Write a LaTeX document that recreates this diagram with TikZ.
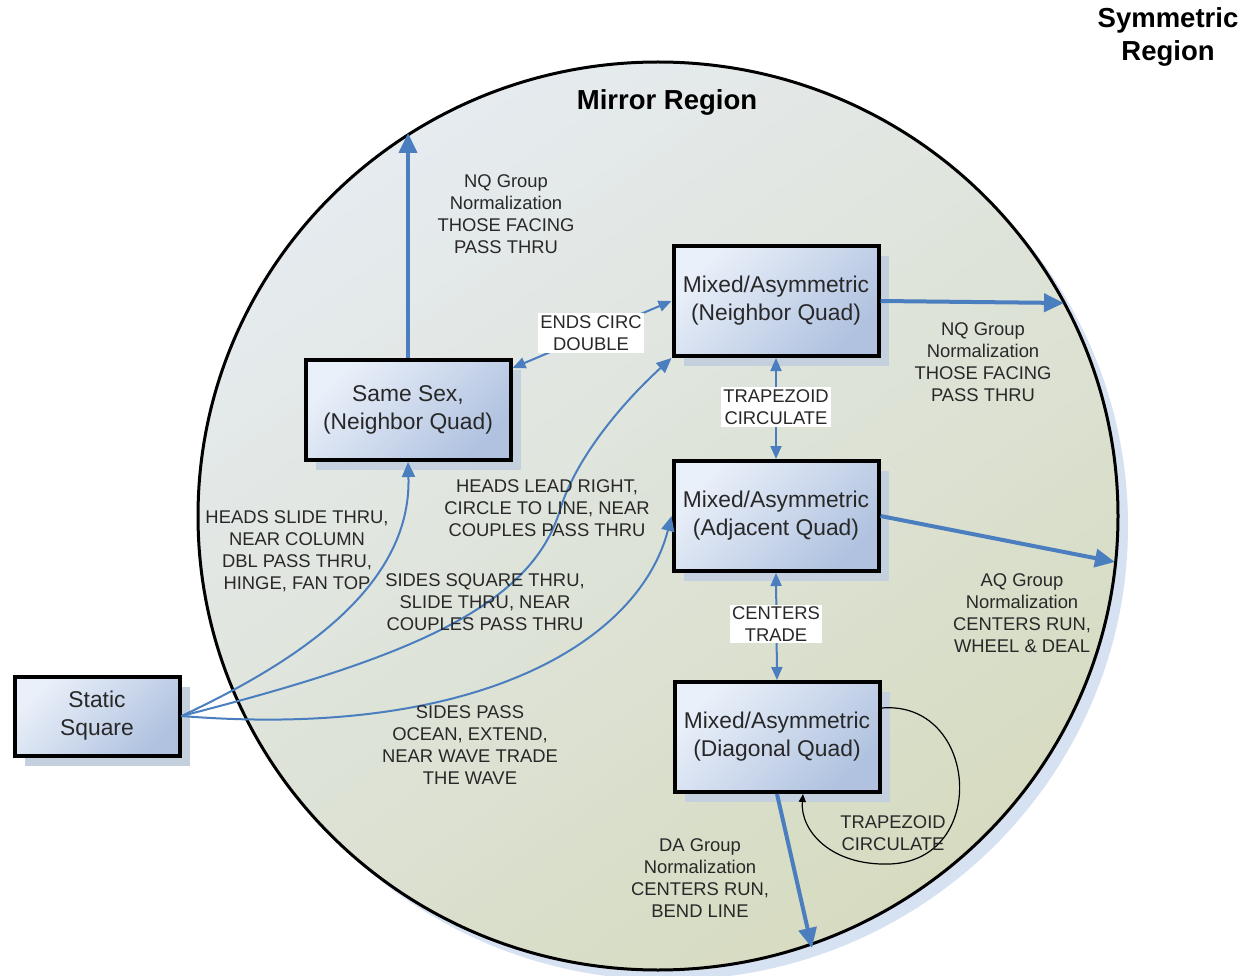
\documentclass[tikz,border=0pt]{standalone}
\usepackage{fontspec}
\setmainfont{Liberation Sans}
\usetikzlibrary{arrows.meta,shadows}

\definecolor{linkblue}{RGB}{74,126,190}
\definecolor{txt}{RGB}{40,40,40}
\definecolor{boxlight}{RGB}{234,240,249}
\definecolor{boxdark}{RGB}{176,194,224}
\definecolor{boxshadow}{RGB}{196,208,222}
\definecolor{ringshadow}{RGB}{214,225,242}
\definecolor{fieldlight}{RGB}{230,235,240}
\definecolor{fielddark}{RGB}{214,219,192}

\tikzset{
  quad/.style={draw=black, line width=4pt, left color=boxlight, right color=boxdark,
    shading angle=45, minimum width=205pt, minimum height=110pt, inner sep=0pt,
    align=center, text=txt, font=\fontsize{22.8}{28}\selectfont,
    drop shadow={shadow xshift=10pt, shadow yshift=-10pt, fill=boxshadow, opacity=1}},
  note/.style={text=txt, align=center, font=\fontsize{18.4}{22}\selectfont, inner sep=1pt},
  tag/.style={note, fill=white, inner sep=2pt},
  title/.style={text=black, align=center, font=\bfseries\fontsize{27.5}{33}\selectfont},
  norm/.style={draw=linkblue, line width=4pt, -{Triangle[length=20pt,width=18pt]}},
  move/.style={draw=linkblue, line width=2pt, -{Triangle[length=15pt,width=13pt]}},
  swap/.style={draw=linkblue, line width=2pt,
    {Triangle[length=13pt,width=11pt]}-{Triangle[length=13pt,width=11pt]}},
  selfloop/.style={draw=black, line width=1.2pt, -{Triangle[length=8pt,width=7pt]}},
}

\begin{document}
\begin{tikzpicture}[x=1pt,y=-1pt]
  \path[use as bounding box, fill=white] (0,0) rectangle (1248,976);

  % the mirror region
  \fill[ringshadow] (668,526) ellipse [x radius=460pt, y radius=454pt];
  \shade[left color=fieldlight, right color=fielddark, shading angle=35,
         draw=black, line width=3pt] (658,516) ellipse [x radius=460pt, y radius=454pt];

  \node[title] (mirror) at (667,102) {Mirror Region};
  \node[title] (symm) at (1168,37) {Symmetric\\Region};

  % formations
  \node[quad, minimum width=205pt, minimum height=100pt] (same) at (408,410) {Same Sex,\\(Neighbor Quad)};
  \node[quad] (nq) at (776,301) {Mixed/Asymmetric\\(Neighbor Quad)};
  \node[quad] (aq) at (776,516) {Mixed/Asymmetric\\(Adjacent Quad)};
  \node[quad] (dq) at (777,737) {Mixed/Asymmetric\\(Diagonal Quad)};
  \node[quad, minimum width=165pt, minimum height=79pt] (ss) at (97,716) {Static\\Square};

  % exits to the symmetric region
  \coordinate (sameout) at (408,133);
  \coordinate (nqout) at (1064,303);
  \coordinate (aqout) at (1115,562);
  \coordinate (dqout) at (812,948);
  \draw[norm] (same.north) -- (sameout);
  \draw[norm] (nq.east) -- (nqout);
  \draw[norm] (aq.east) -- (aqout);
  \draw[norm] (dq.south) -- (dqout);

  \node[note] (l1) at (506,214) {NQ Group\\Normalization\\THOSE FACING\\PASS THRU};
  \node[note] (l2) at (983,362) {NQ Group\\Normalization\\THOSE FACING\\PASS THRU};
  \node[note] (l3) at (1022,613) {AQ Group\\Normalization\\CENTERS RUN,\\WHEEL \& DEAL};
  \node[note] (l4) at (700,878) {DA Group\\Normalization\\CENTERS RUN,\\BEND LINE};

  % moves from the static square
  \draw[move] (ss.east) .. controls (290,665) and (412,590) .. (same.south);
  \draw[move] (ss.east) .. controls (400,660) and (530,610) .. (560,510)
                        .. controls (575,460) and (620,405) .. (nq.south west);
  \draw[move] (ss.east) .. controls (480,740) and (640,640) .. (aq.west);

  \node[note] (l5) at (297,551) {HEADS SLIDE THRU,\\NEAR COLUMN\\DBL PASS THRU,\\HINGE, FAN TOP};
  \node[note] (l6) at (547,508) {HEADS LEAD RIGHT,\\CIRCLE TO LINE, NEAR\\COUPLES PASS THRU};
  \node[note] (l7) at (485,602) {SIDES SQUARE THRU,\\SLIDE THRU, NEAR\\COUPLES PASS THRU};
  \node[note] (l8) at (470,745) {SIDES PASS\\OCEAN, EXTEND,\\NEAR WAVE TRADE\\THE WAVE};

  % moves between the mixed formations
  \draw[swap] ([yshift=-10pt]same.north east) -- (nq.west);
  \draw[swap] (nq.south) -- (aq.north);
  \draw[swap] (aq.south) -- (dq.north);
  \node[tag] (t1) at (591,333) {ENDS CIRC\\DOUBLE};
  \node[tag] (t2) at (776,407) {TRAPEZOID\\CIRCULATE};
  \node[tag] (t3) at (776,624) {CENTERS\\TRADE};

  % trapezoid circulate returns to the diagonal quad
  \draw[selfloop] ([yshift=29pt]dq.east) .. controls (978,700) and (990,860) .. (890,864)
        .. controls (830,866) and (800,830) .. ([xshift=26pt]dq.south);
  \node[note] (l9) at (893,833) {TRAPEZOID\\CIRCULATE};
\end{tikzpicture}
\end{document}
